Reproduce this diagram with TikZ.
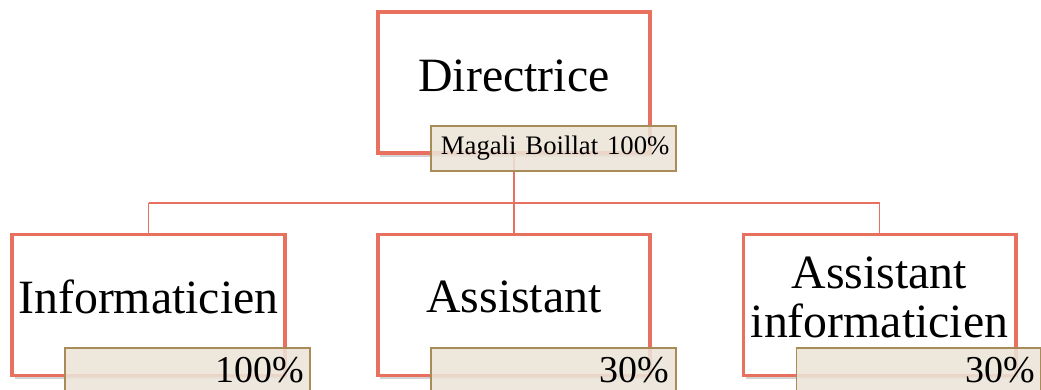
\documentclass[tikz,border=0pt]{standalone}
\usepackage{fontspec}
\setmainfont{Liberation Serif}
\usetikzlibrary{calc,shadows}

\definecolor{coral}{HTML}{E8705F}
\definecolor{tagfill}{HTML}{ECE4D8}
\definecolor{tagline}{HTML}{A98B57}

\begin{document}
\begin{tikzpicture}[x=0.025cm, y=-0.025cm,
  post/.style={draw=coral, line width=2.8pt, fill=white, minimum width=6.8cm, minimum height=3.525cm,
    drop shadow={shadow xshift=1.5pt, shadow yshift=-2.5pt, opacity=0.35}},
  title/.style={font=\fontsize{34}{34.5}\selectfont, align=center},
  tag/.style={draw=tagline, line width=1.4pt, fill=tagfill, fill opacity=0.88, text opacity=1,
    minimum height=1.125cm, text width=5.8cm, inner xsep=0.16cm, align=right, anchor=north west},
  low tag/.style={tag, font=\fontsize{27}{30}\selectfont, text depth=0.22em}]
\useasboundingbox (0,0) rectangle (1041,389);
\clip (0,0) rectangle (1041,389);

% Connectors (behind everything)
\tikzset{wire/.style={draw=coral, line width=1.1pt}}
\coordinate (bus) at (514,203);
\draw[wire] (514,150) -- (bus);
\draw[wire] (148.5,203) -- (879.5,203);
\foreach \x in {148.5,514,879.5} \draw[wire] (\x,203) -- (\x,240);

% Boxes
\node[post] (dir) at (514,82.5) {};
\node[post] (inf) at (148.5,305) {};
\node[post] (ass) at (514,305) {};
\node[post] (asi) at (879.5,305) {};

\node[title] (dirT) at ([yshift=5pt]dir.center) {Directrice};
\node[title] (infT) at ([yshift=5.5pt]inf.center) {Informaticien};
\node[title] (assT) at ([yshift=5.5pt]ass.center) {Assistant};
\node[title] (asiT) at ([yshift=5.5pt]asi.center) {Assistant\\informaticien};

% Name / percentage tags
\node[tag, font=\fontsize{19}{22}\selectfont] (dirTag) at ($(dir.south west)+(54,-30)$) {Magali Boillat 100\%};
\node[low tag] (infTag) at ($(inf.south west)+(54,-30)$) {100\%};
\node[low tag] (assTag) at ($(ass.south west)+(54,-30)$) {30\%};
\node[low tag] (asiTag) at ($(asi.south west)+(54,-30)$) {30\%};

\end{tikzpicture}
\end{document}
